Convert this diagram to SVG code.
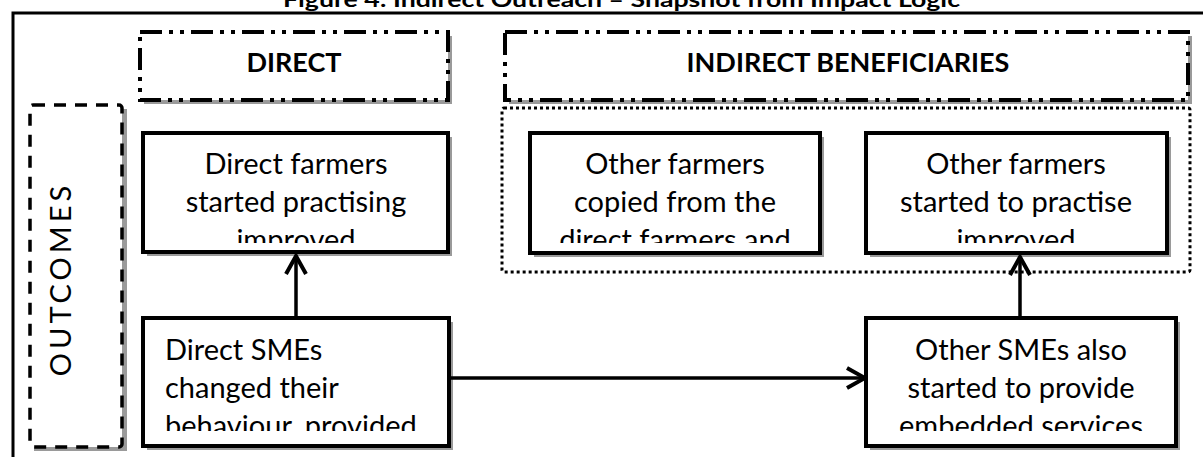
<svg xmlns="http://www.w3.org/2000/svg" width="1203" height="457" viewBox="0 0 1203 457">
  <style>
    .shadow { fill: #9a9a9a; }
    .node { fill: #ffffff; stroke: #000000; stroke-width: 4; }
    .lbl { font-family: Lato, "Open Sans", "Liberation Sans", sans-serif; font-size: 29px; fill: #000000; }
    .mid { text-anchor: middle; }
    .head { font-family: Lato, "Open Sans", "Liberation Sans", sans-serif; font-size: 27px; font-weight: bold; fill: #000000; text-anchor: middle; }
    .dashdot { fill: #ffffff; stroke: #000000; stroke-width: 4; stroke-dasharray: 22 7 4 7 4 7; }
    .dotted { fill: none; stroke: #000000; stroke-width: 3; stroke-dasharray: 3 3; }
    .dashed { fill: #ffffff; stroke: #000000; stroke-width: 3.5; stroke-dasharray: 12 9; }
    .edge { fill: none; stroke: #000000; stroke-width: 3.5; }
  </style>
  <defs>
    <marker id="open-arrow" viewBox="0 0 24 24" refX="21" refY="12" markerWidth="24" markerHeight="24" markerUnits="userSpaceOnUse" orient="auto">
      <path d="M3,2 L21,12 L3,22" fill="none" stroke="#000000" stroke-width="4"/>
    </marker>
    <clipPath id="clip-a"><rect x="145" y="135" width="302" height="108"/></clipPath>
    <clipPath id="clip-b"><rect x="532" y="135" width="286" height="108"/></clipPath>
    <clipPath id="clip-c"><rect x="868" y="135" width="297" height="108"/></clipPath>
    <clipPath id="clip-d"><rect x="145" y="320" width="302" height="111"/></clipPath>
    <clipPath id="clip-e"><rect x="870" y="320" width="304" height="111"/></clipPath>
  </defs>

  <rect width="1203" height="457" fill="#ffffff"/>

  <!-- caption, partly cut off by the page edge -->
  <text x="283" y="7" font-family="Lato, 'Liberation Sans', sans-serif" font-size="20" font-weight="bold" textLength="677" lengthAdjust="spacingAndGlyphs">Figure 4: Indirect Outreach – Snapshot from Impact Logic</text>

  <!-- outer frame -->
  <path d="M13,457 L13,13 L1203,13" fill="none" stroke="#000000" stroke-width="3"/>

  <!-- row label -->
  <g id="outcomes">
    <rect class="shadow" x="34" y="109" width="93" height="342"/>
    <rect class="dashed" x="30" y="105" width="92" height="342" rx="3"/>
    <text class="lbl" transform="translate(71,279) rotate(-90)" text-anchor="middle" font-size="22" letter-spacing="4">OUTCOMES</text>
  </g>

  <!-- column headers -->
  <g id="direct-header">
    <rect class="shadow" x="144" y="36" width="308" height="68"/>
    <rect class="dashdot" x="140" y="32" width="308" height="68"/>
    <text class="head" x="294" y="72">DIRECT</text>
  </g>
  <g id="indirect-header">
    <rect class="shadow" x="509" y="36" width="683" height="68"/>
    <rect class="dashdot" x="505" y="32" width="683" height="68"/>
    <text class="head" x="848" y="72">INDIRECT BENEFICIARIES</text>
  </g>

  <!-- grouping of indirect farmer outcomes -->
  <g id="indirect-farmers-group">
    <rect class="dotted" x="502" y="108" width="688" height="164" rx="2"/>
  </g>

  <g id="direct-farmers">
    <rect class="shadow" x="147" y="137" width="305" height="119"/>
    <rect class="node" x="143" y="133" width="305" height="119"/>
    <g clip-path="url(#clip-a)">
      <text class="lbl mid" x="296" y="174">Direct farmers</text>
      <text class="lbl mid" x="296" y="212">started practising</text>
      <text class="lbl mid" x="296" y="250">improved</text>
    </g>
  </g>

  <g id="other-farmers-copied">
    <rect class="shadow" x="534" y="137" width="290" height="120"/>
    <rect class="node" x="530" y="133" width="290" height="120"/>
    <g clip-path="url(#clip-b)">
      <text class="lbl mid" x="675" y="174">Other farmers</text>
      <text class="lbl mid" x="675" y="212">copied from the</text>
      <text class="lbl mid" x="675" y="250">direct farmers and</text>
    </g>
  </g>

  <g id="other-farmers-practise">
    <rect class="shadow" x="870" y="137" width="301" height="120"/>
    <rect class="node" x="866" y="133" width="301" height="120"/>
    <g clip-path="url(#clip-c)">
      <text class="lbl mid" x="1016" y="174">Other farmers</text>
      <text class="lbl mid" x="1016" y="212">started to practise</text>
      <text class="lbl mid" x="1016" y="250">improved</text>
    </g>
  </g>

  <g id="direct-smes">
    <rect class="shadow" x="147" y="322" width="306" height="128"/>
    <rect class="node" x="143" y="318" width="306" height="128"/>
    <g clip-path="url(#clip-d)">
      <text class="lbl" x="165" y="360">Direct SMEs</text>
      <text class="lbl" x="165" y="398">changed their</text>
      <text class="lbl" x="165" y="436">behaviour, provided</text>
    </g>
  </g>

  <g id="other-smes">
    <rect class="shadow" x="870" y="322" width="310" height="128"/>
    <rect class="node" x="866" y="318" width="310" height="128"/>
    <g clip-path="url(#clip-e)">
      <text class="lbl mid" x="1021" y="360">Other SMEs also</text>
      <text class="lbl mid" x="1021" y="398">started to provide</text>
      <text class="lbl mid" x="1021" y="436">embedded services</text>
    </g>
  </g>

  <!-- connectors -->
  <g id="connectors">
    <path class="edge" d="M296,316 L296,256" marker-end="url(#open-arrow)"/>
    <path class="edge" d="M451,378 L865,378" marker-end="url(#open-arrow)"/>
    <path class="edge" d="M1020,316 L1020,257" marker-end="url(#open-arrow)"/>
  </g>
</svg>
